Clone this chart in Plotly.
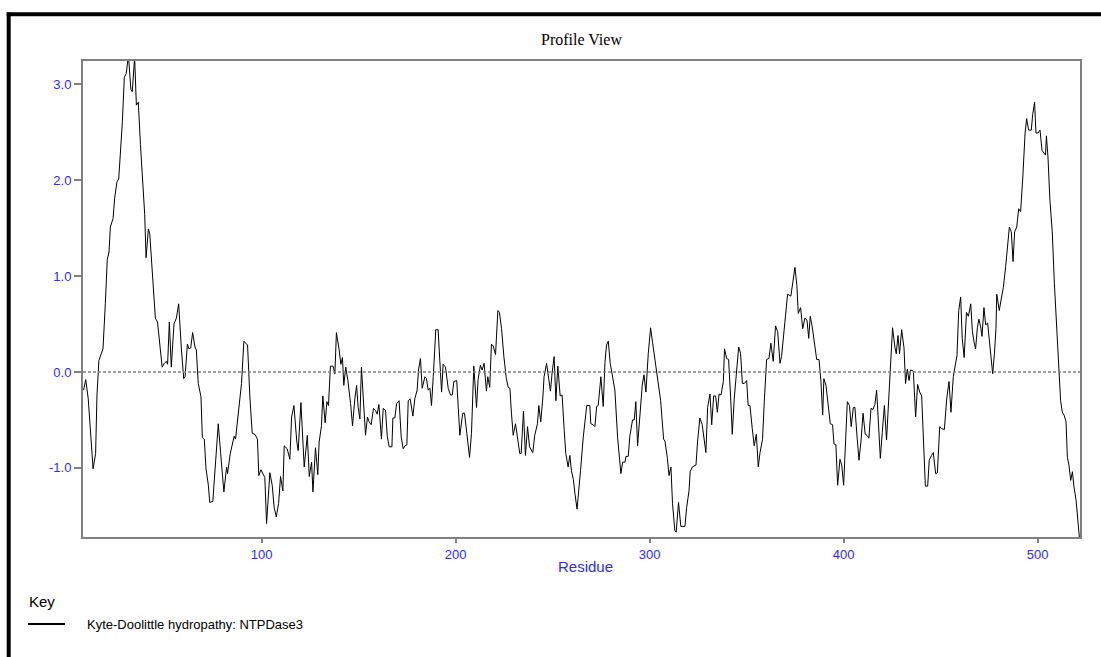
import plotly.graph_objects as go

# Residue positions (window centres)
residue = [
    8.3, 9.4, 10.7, 11.4, 13.2, 14.5, 15.2, 16.2, 17.5, 18.3, 19.5, 20.5, 21.4, 22.1, 23.5, 24.3, 25.5, 26.4, 27.2, 28.3,
    29.3, 30.3, 31.4, 32.7, 33.4, 34.6, 35.5, 36.5, 37.6, 38.9, 39.8, 40.5, 41.7, 42.4, 43.4, 44.4, 45.3, 46.4, 47.5, 48.8,
    49.9, 51.0, 51.6, 52.5, 53.5, 54.9, 56.1, 57.3, 58.7, 59.9, 60.6, 61.8, 62.6, 63.5, 64.5, 65.7, 66.4, 67.4, 68.8, 69.5,
    70.5, 71.4, 72.6, 73.3,
    74.9, 76.0, 77.7, 78.9, 80.6, 82.0, 82.5, 83.9, 85.9, 86.6, 88.8, 89.7, 90.9, 92.8, 94.0, 95.2, 96.6, 97.9, 98.6, 99.7,
    101.7, 102.6, 104.3, 105.5, 106.5, 107.6, 108.8, 109.8, 111.0, 111.7, 113.2, 114.6, 115.5, 116.7, 118.2, 118.9, 120.3,
    122.0, 123.6, 124.6, 125.8, 126.5, 127.8, 129.0, 129.7, 130.9, 131.6, 132.8, 133.7, 134.5, 135.5, 136.9, 137.8,
    138.6, 140.0, 140.9, 141.7, 142.4, 143.4, 144.5, 145.9, 146.9, 148.1, 149.0, 149.8, 150.7, 151.5, 152.4, 153.6, 154.6,
    155.5, 156.5, 157.7, 158.7, 159.6, 160.5, 161.8, 162.7, 163.9, 164.8, 165.8, 167.2, 167.7, 168.7, 169.6, 170.9, 172.0,
    173.0, 173.9, 174.9, 175.6, 176.6, 178.0, 179.0, 180.2, 180.9, 181.9, 182.8, 184.2, 185.0, 185.9, 186.8, 187.6, 188.5,
    189.8, 191.0, 191.9, 192.8, 193.6, 194.8, 196.2, 197.4, 198.3, 199.1, 200.6, 202.2,
    203.7, 204.6, 205.8, 207.2, 208.2, 209.4, 210.8, 211.6, 212.8, 213.7, 214.7, 215.9, 216.6, 217.6, 218.5, 219.4, 220.6,
    221.8, 222.6, 223.7, 224.9, 226.1, 227.1, 228.0, 228.8, 229.7, 230.9, 231.9, 233.1, 233.8, 235.0, 236.0, 237.1, 238.1,
    239.8, 240.8, 242.2, 242.9, 243.9, 245.0, 245.6, 246.9, 247.7, 248.9, 249.8, 250.8, 251.7, 252.7, 253.9, 254.9, 256.0,
    256.8, 258.0, 258.9, 259.7, 260.7, 261.6, 262.6, 264.4, 265.8, 267.6, 269.2,
    269.7, 270.9, 271.8, 272.7, 273.5, 274.9, 276.1, 277.0, 277.8, 278.7, 279.7, 280.7, 282.1, 283.5, 285.2, 286.1, 287.3,
    287.8, 289.0, 289.8, 291.2, 292.1, 292.9, 293.8, 295.0, 296.2, 297.1, 298.1, 299.3, 300.5, 301.5, 302.7, 304.1, 305.7,
    307.2, 307.9, 309.1, 310.0, 311.0, 311.8, 313.0, 313.7, 314.9, 316.1, 318.2, 319.1, 320.3, 320.9, 322.0, 322.8, 323.9,
    324.7, 325.9, 327.1, 328.2, 329.0, 329.9, 331.1, 332.0, 333.0, 334.0,
    334.9, 335.8, 336.8, 338.0, 338.6, 339.7, 340.7, 341.7, 342.6, 343.6, 344.8, 345.9, 346.9, 347.8, 348.8, 350.0, 350.8,
    351.7, 352.9, 353.9, 355.0, 356.0, 356.9, 358.2, 359.1, 360.3, 361.5, 362.5, 363.7, 364.9, 366.0, 367.2, 368.0, 369.2,
    370.1, 371.1, 372.8, 373.9, 374.9, 375.9, 376.6, 377.8, 378.9, 380.0, 381.1, 382.0, 382.8, 383.8, 384.9, 386.1, 387.3,
    388.3, 389.2, 389.8, 390.9, 392.1, 393.1, 394.3, 395.0, 396.0, 396.9, 398.1, 399.0, 400.0,
    401.9, 403.0, 403.9, 405.0, 405.8, 407.0, 407.9, 408.9, 410.0, 411.1, 412.0, 413.0, 414.1, 415.1, 416.1, 417.0, 417.9,
    418.9, 419.9, 421.0, 422.1, 423.2, 424.0, 425.2, 426.4, 427.1, 428.0, 428.8, 429.9, 431.1, 431.9, 432.8, 433.7, 434.5,
    435.9, 437.1, 438.1, 439.2, 440.2, 441.0, 442.1, 443.3, 444.1, 445.3, 446.2, 447.4, 448.3, 449.5, 450.5, 451.9, 453.1,
    454.3, 455.3, 456.5, 457.4, 458.4, 459.3, 460.3, 461.1, 462.1, 463.3, 464.3, 465.5,
    466.3, 467.2, 468.0, 468.9, 469.7, 470.6, 471.3, 472.3, 473.2, 474.2, 475.2, 476.0, 476.8, 477.7, 478.5, 478.9, 480.2,
    481.3, 482.3, 483.5, 484.5, 485.4, 486.4, 487.3, 488.1, 489.2, 490.2, 491.2, 492.3, 493.5, 494.3, 495.3, 496.7, 497.4,
    498.4, 499.1, 500.2, 501.2, 502.2, 503.3, 504.0, 504.5, 505.3, 506.3, 507.5, 508.6, 509.8, 510.8, 511.8, 512.7, 513.6,
    514.6, 515.3, 516.1, 517.0, 517.9, 518.7, 519.8, 520.8, 521.8,
]

# Kyte-Doolittle hydropathy values
hydropathy = [
    -0.19, -0.08, -0.28, -0.52, -1.01, -0.85, -0.24, 0.12, 0.19, 0.24, 0.71, 1.17, 1.25, 1.51, 1.60, 1.81, 1.98, 2.01, 2.26, 2.61,
    3.07, 3.11, 3.30, 2.94, 2.92, 3.28, 2.78, 2.81, 2.37, 1.95, 1.64, 1.19, 1.49, 1.44, 1.15, 0.77, 0.56, 0.52, 0.31, 0.05,
    0.09, 0.11, 0.08, 0.52, 0.05, 0.50, 0.56, 0.71, 0.24, -0.07, -0.05, 0.29, 0.24, 0.25, 0.41, 0.26, 0.23, -0.12, -0.26, -0.68,
    -0.70, -1.01, -1.18, -1.36,
    -1.35, -1.03, -0.54, -0.84, -1.25, -0.99, -1.06, -0.85, -0.67, -0.70, -0.33, -0.12, 0.32, 0.28, -0.26, -0.64, -0.65, -0.70, -1.08, -1.02,
    -1.10, -1.58, -1.05, -1.18, -1.41, -1.51, -1.37, -1.09, -1.24, -0.77, -0.80, -0.91, -0.47, -0.35, -0.73, -0.82, -0.32,
    -0.99, -0.66, -1.09, -0.94, -1.25, -0.79, -1.07, -0.73, -0.56, -0.25, -0.53, -0.31, -0.35, 0.06, 0.06, -0.02,
    0.41, 0.23, 0.08, 0.15, -0.14, 0.05, -0.09, -0.33, -0.56, -0.28, -0.14, -0.37, -0.49, 0.05, -0.31, -0.66, -0.47,
    -0.52, -0.55, -0.38, -0.40, -0.44, -0.34, -0.70, -0.38, -0.40, -0.67, -0.78, -0.78, -0.48, -0.48, -0.33, -0.30, -0.68,
    -0.80, -0.77, -0.76, -0.30, -0.28, -0.46, -0.28, -0.19, 0.02, 0.14, -0.17, -0.05, -0.07, -0.19, -0.17, -0.35, -0.05,
    0.44, 0.44, 0.16, -0.21, 0.08, 0.05, -0.17, -0.24, -0.24, -0.10, -0.09, -0.66,
    -0.43, -0.43, -0.64, -0.89, -0.64, 0.06, -0.37, -0.08, 0.07, 0.02, 0.09, -0.20, -0.05, -0.16, 0.29, 0.27, 0.18,
    0.64, 0.62, 0.45, 0.16, -0.06, -0.16, -0.17, -0.43, -0.66, -0.54, -0.71, -0.85, -0.85, -0.41, -0.87, -0.57, -0.78,
    -0.84, -0.66, -0.54, -0.35, -0.52, -0.26, -0.05, 0.09, -0.02, -0.20, 0.00, 0.16, -0.30, 0.06, -0.25, -0.24, -0.61,
    -0.85, -0.99, -0.87, -1.03, -1.12, -1.28, -1.43, -1.03, -0.68, -0.35, -0.35,
    -0.54, -0.55, -0.57, -0.36, -0.35, -0.05, -0.36, 0.10, 0.28, 0.32, 0.09, -0.02, -0.19, -0.68, -1.06, -0.94, -0.94,
    -0.88, -0.88, -0.67, -0.50, -0.50, -0.31, -0.77, -0.45, -0.14, -0.03, -0.21, 0.19, 0.46, 0.31, 0.12, -0.09, -0.30,
    -0.70, -0.72, -0.89, -1.08, -0.99, -1.37, -1.65, -1.67, -1.36, -1.61, -1.61, -1.41, -1.24, -1.04, -0.99, -0.98, -0.97,
    -0.73, -0.48, -0.55, -0.70, -0.84, -0.37, -0.23, -0.55, -0.25, -0.25,
    -0.42, -0.23, -0.24, -0.10, 0.24, 0.14, 0.13, -0.24, -0.65, -0.28, 0.02, 0.26, 0.19, -0.12, -0.12, -0.09, -0.35,
    -0.35, -0.59, -0.77, -0.65, -0.99, -0.84, -0.70, -0.31, 0.13, 0.14, 0.30, 0.11, 0.48, 0.42, 0.09, 0.16, 0.43,
    0.64, 0.81, 0.79, 0.97, 1.09, 0.90, 0.61, 0.67, 0.45, 0.56, 0.54, 0.35, 0.58, 0.47, 0.33, 0.13, 0.13,
    -0.10, -0.45, -0.07, -0.14, -0.38, -0.54, -0.55, -0.75, -0.76, -1.18, -0.91, -0.97, -1.18,
    -0.31, -0.35, -0.57, -0.37, -0.37, -0.70, -0.92, -0.73, -0.43, -0.65, -0.66, -0.69, -0.38, -0.39, -0.34, -0.19, -0.49,
    -0.90, -0.63, -0.35, -0.71, -0.28, 0.10, 0.46, 0.26, 0.19, 0.38, 0.19, 0.44, 0.25, -0.12, 0.03, -0.09, 0.02,
    0.01, -0.47, -0.13, -0.21, -0.25, -0.68, -1.19, -1.19, -0.92, -0.87, -0.84, -1.06, -1.05, -0.57, -0.59, -0.60, -0.28,
    -0.10, -0.42, -0.05, 0.07, 0.17, 0.64, 0.78, 0.35, 0.15, 0.62, 0.58, 0.71,
    0.43, 0.31, 0.24, 0.46, 0.55, 0.47, 0.37, 0.67, 0.49, 0.51, 0.33, 0.16, -0.02, 0.19, 0.45, 0.81, 0.64,
    0.77, 0.88, 1.10, 1.30, 1.51, 1.46, 1.15, 1.46, 1.51, 1.70, 1.67, 2.02, 2.49, 2.64, 2.52, 2.52, 2.68,
    2.81, 2.49, 2.49, 2.52, 2.31, 2.27, 2.26, 2.46, 2.24, 1.79, 1.46, 0.92, 0.47, 0.05, -0.30, -0.42, -0.45,
    -0.52, -0.89, -0.97, -1.13, -1.04, -1.20, -1.34, -1.55, -1.80,
]

x_ticks = [100, 200, 300, 400, 500]
y_ticks = [-1, 0, 1, 2, 3]
y_tick_labels = ["-1.0", "0.0", "1.0", "2.0", "3.0"]
series_name = "Kyte-Doolittle hydropathy: NTPDase3"

W, H = 1101, 657
L, R, T, B = 83, 21, 61, 120
pw, ph = W - L - R, H - T - B


def px(xp):
    return (xp - L) / pw


def py(yp):
    return (H - B - yp) / ph


blue = "#2b2bff"
grey = "#808080"

fig = go.Figure()
fig.add_trace(go.Scatter(
    x=residue, y=hydropathy, mode="lines",
    line=dict(color="black", width=1),
    name=series_name, showlegend=False,
))

fig.update_layout(
    width=W, height=H, autosize=False,
    margin=dict(l=L, r=R, t=T, b=B, pad=0),
    paper_bgcolor="white", plot_bgcolor="white",
    font=dict(family="Liberation Sans, Arial, sans-serif", size=13, color=blue),
    xaxis=dict(
        range=[8, 521.8], tickvals=x_ticks, ticks="outside", ticklen=4, tickwidth=1.5,
        tickcolor=grey, showline=True, linecolor=grey, linewidth=2, mirror=True,
        showgrid=False, zeroline=False, tickfont=dict(size=13, color=blue),
    ),
    yaxis=dict(
        range=[-1.72, 3.24], tickvals=y_ticks, ticktext=y_tick_labels, ticks="outside",
        ticklen=7, tickwidth=1.5, tickcolor=grey, showline=True, linecolor=grey,
        linewidth=2, mirror=True, showgrid=False, zeroline=False,
        tickfont=dict(size=13, color=blue),
    ),
    shapes=[
        # zero reference line
        dict(type="line", xref="paper", yref="y", x0=0, x1=1, y0=0, y1=0,
             line=dict(color=grey, width=1.5, dash="3px,2px")),
        # outer frame (top and left)
        dict(type="line", xref="paper", yref="paper", x0=px(6.7), x1=px(1110),
             y0=py(14.3), y1=py(14.3), line=dict(color="black", width=4)),
        dict(type="line", xref="paper", yref="paper", x0=px(8.7), x1=px(8.7),
             y0=py(12.5), y1=py(670), line=dict(color="black", width=4)),
        # legend sample line
        dict(type="line", xref="paper", yref="paper", x0=px(28), x1=px(65),
             y0=py(624), y1=py(624), line=dict(color="black", width=2)),
    ],
    annotations=[
        dict(text="Profile View", xref="paper", yref="paper", x=0.5, y=py(40),
             xanchor="center", yanchor="middle", showarrow=False,
             font=dict(family="Liberation Serif, Times New Roman, serif", size=16, color="black")),
        dict(text="Residue", xref="paper", yref="paper", x=px(585), y=py(566),
             xanchor="center", yanchor="middle", showarrow=False,
             font=dict(size=15, color=blue)),
        dict(text="Key", xref="paper", yref="paper", x=px(27), y=py(601),
             xanchor="left", yanchor="middle", showarrow=False,
             font=dict(size=15, color="black")),
        dict(text=series_name, xref="paper", yref="paper", x=px(85), y=py(624),
             xanchor="left", yanchor="middle", showarrow=False,
             font=dict(size=13, color="black")),
    ],
)

fig.write_html(
    "out.html",
    config={"displayModeBar": False},
    post_script="document.body.style.margin='0px';document.body.style.overflow='hidden';",
)
